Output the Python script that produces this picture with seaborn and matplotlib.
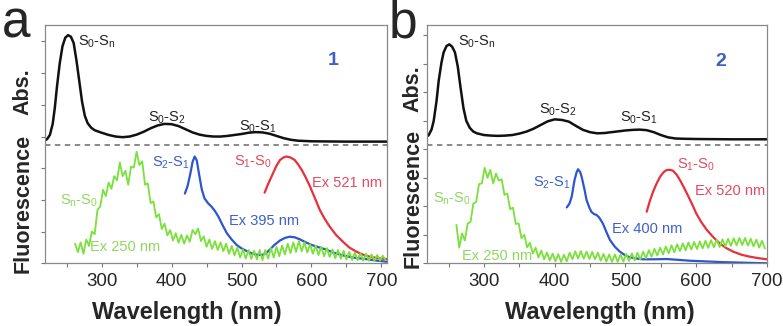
import numpy as np
import matplotlib
matplotlib.use("Agg")
import matplotlib.pyplot as plt
from matplotlib.ticker import FixedLocator
import seaborn as sns

# ---- panel a (compound 1) ----
a_abs_x = [219, 222, 226, 230, 233, 236, 240, 244, 248, 252, 256, 260, 264, 268, 272, 276, 280, 285, 290,
           300, 310, 320, 330, 340, 350, 360, 370, 380, 390, 400, 410, 420, 430, 440, 450, 460, 470, 480,
           490, 500, 510, 520, 530, 540, 550, 560, 570, 580, 600, 650, 708]
a_abs_y = [3.88, 3.92, 4.05, 4.40, 4.90, 5.55, 6.30, 6.85, 7.12, 7.20, 7.15, 6.95, 6.40, 5.75, 5.10, 4.65, 4.42, 4.28, 4.20,
           4.12, 4.05, 4.00, 3.98, 4.00, 4.06, 4.15, 4.26, 4.35, 4.40, 4.39, 4.33, 4.23, 4.13, 4.06, 4.02, 4.00, 4.00, 4.02,
           4.05, 4.08, 4.12, 4.14, 4.13, 4.09, 4.02, 3.95, 3.90, 3.87, 3.85, 3.84, 3.84]

a_blue_x = [419, 423, 427, 430, 433, 436, 439, 443, 447, 452, 457, 462, 467, 473, 479, 486, 493, 500, 508, 515,
            522, 529, 535, 540, 547, 555, 562, 569, 576, 583, 592, 600, 607, 620, 631, 645, 660, 679, 695, 708]
a_blue_y = [2.20, 2.45, 2.85, 3.20, 3.37, 3.25, 2.85, 2.35, 2.05, 1.90, 1.79, 1.65, 1.47, 1.20, 0.95, 0.75, 0.58, 0.47, 0.38, 0.31,
            0.27, 0.26, 0.32, 0.42, 0.58, 0.72, 0.80, 0.84, 0.82, 0.76, 0.66, 0.58, 0.53, 0.44, 0.34, 0.25, 0.18, 0.13, 0.08, 0.05]

a_red_x = [533, 538, 545, 550, 555, 560, 564, 570, 576, 581, 586, 592, 598, 605, 612, 619, 626, 635, 645, 654,
           664, 673, 683, 695, 708]
a_red_y = [2.23, 2.50, 2.84, 3.08, 3.26, 3.34, 3.37, 3.34, 3.26, 3.12, 2.95, 2.70, 2.42, 2.05, 1.68, 1.40, 1.16, 0.90, 0.68, 0.50,
           0.37, 0.28, 0.21, 0.16, 0.13]

# noisy green trace, one reading every 4 nm from 262 nm
a_green_start = 262
a_green_y = [0.62, 0.35, 0.66, 0.30, 0.75, 0.55, 1.00, 0.92, 1.68, 1.80, 2.32, 2.12, 2.55, 2.35, 2.75, 2.62,
             3.18, 2.75, 2.92, 2.48, 3.05, 3.02, 3.52, 3.10, 3.22, 2.48, 2.52, 1.90, 1.95, 1.45, 1.55, 1.08,
             1.25, 0.88, 1.05, 0.72, 0.95, 0.65, 0.90, 0.62, 0.88, 0.68, 1.05, 0.92, 1.10, 0.70, 0.85, 0.52,
             0.75, 0.45, 0.70, 0.42, 0.66, 0.38, 0.62, 0.30, 0.55, 0.25, 0.50, 0.18, 0.44, 0.15, 0.42, 0.14,
             0.40, 0.12, 0.42, 0.10, 0.42, 0.15, 0.48, 0.18, 0.52, 0.22, 0.56, 0.28, 0.62, 0.32, 0.66, 0.36,
             0.70, 0.38, 0.66, 0.34, 0.60, 0.30, 0.56, 0.26, 0.52, 0.22, 0.48, 0.20, 0.44, 0.16, 0.42, 0.14,
             0.40, 0.12, 0.36, 0.10, 0.34, 0.10, 0.32, 0.08, 0.30, 0.08, 0.28, 0.08, 0.26, 0.08, 0.24, 0.10]

# ---- panel b (compound 2) ----
b_abs_x = [219, 222, 226, 229, 233, 236, 240, 243, 247, 251, 255, 259, 263, 267, 271, 275, 280, 285, 290,
           300, 310, 320, 330, 340, 350, 360, 370, 380, 390, 400, 410, 420, 430, 440, 450, 460, 470, 480,
           490, 500, 510, 520, 530, 540, 550, 560, 570, 580, 600, 650, 700]
b_abs_y = [4.44, 4.50, 4.70, 5.00, 5.70, 6.40, 7.05, 7.40, 7.62, 7.68, 7.60, 7.40, 6.90, 6.15, 5.45, 5.00, 4.75, 4.62, 4.56,
           4.50, 4.48, 4.47, 4.48, 4.50, 4.55, 4.62, 4.72, 4.85, 4.98, 5.05, 5.03, 4.97, 4.82, 4.68, 4.60, 4.56, 4.57, 4.60,
           4.63, 4.66, 4.68, 4.69, 4.67, 4.60, 4.50, 4.42, 4.38, 4.37, 4.36, 4.35, 4.35]

b_blue_x = [417, 421, 424, 428, 431, 433, 436, 438, 442, 445, 449, 452, 456, 459, 463, 468, 473, 478, 485, 492,
            499, 506, 515, 525, 540, 558, 575, 591, 610, 638, 670, 700]
b_blue_y = [1.96, 2.10, 2.34, 2.92, 3.20, 3.30, 3.20, 3.04, 2.60, 2.22, 1.95, 1.80, 1.72, 1.70, 1.60, 1.40, 1.10, 0.82, 0.58, 0.41,
            0.29, 0.21, 0.17, 0.14, 0.14, 0.15, 0.12, 0.09, 0.07, 0.04, 0.02, 0.00]

b_red_x = [530, 534, 539, 544, 549, 554, 558, 563, 567, 572, 577, 583, 589, 595, 600, 607, 615, 624, 633, 642,
           652, 664, 676, 688, 700]
b_red_y = [1.81, 2.15, 2.51, 2.80, 3.04, 3.20, 3.27, 3.28, 3.25, 3.12, 2.92, 2.64, 2.34, 2.03, 1.75, 1.45, 1.17, 0.92, 0.70, 0.54,
           0.41, 0.30, 0.23, 0.18, 0.14]

b_green_start = 261
b_green_y = [1.35, 0.55, 1.05, 0.80, 1.40, 1.45, 2.10, 2.15, 2.78, 2.80, 3.35, 3.00, 3.28, 2.80, 3.15, 2.90,
             2.95, 2.40, 2.45, 1.90, 1.95, 1.38, 1.40, 0.88, 1.00, 0.56, 0.72, 0.34, 0.55, 0.20, 0.45, 0.14,
             0.38, 0.10, 0.34, 0.07, 0.32, 0.05, 0.30, 0.07, 0.37, 0.14, 0.42, 0.17, 0.43, 0.16, 0.41, 0.15,
             0.40, 0.14, 0.38, 0.09, 0.33, 0.06, 0.31, 0.05, 0.31, 0.05, 0.31, 0.06, 0.33, 0.08, 0.35, 0.10,
             0.37, 0.13, 0.41, 0.17, 0.46, 0.23, 0.51, 0.27, 0.55, 0.31, 0.59, 0.35, 0.63, 0.39, 0.67, 0.43,
             0.70, 0.45, 0.73, 0.48, 0.75, 0.50, 0.77, 0.52, 0.79, 0.54, 0.81, 0.56, 0.83, 0.57, 0.84, 0.59,
             0.86, 0.61, 0.88, 0.63, 0.89, 0.64, 0.89, 0.62, 0.86, 0.59, 0.83, 0.55, 0.79, 0.52]

# colours
BLACK = "#111111"
GREEN = "#7ae03a"
GREEN_TXT = "#8fd860"
BLUE = "#2d55cf"
BLUE_TXT = "#3d5fc8"
RED = "#e8303c"
RED_TXT = "#e5485e"

sns.set_style("ticks")
plt.rcParams["font.family"] = ["Liberation Sans", "DejaVu Sans"]

fig = plt.figure(figsize=(7.83, 3.26), dpi=100)
ax_a = fig.add_axes([45 / 783, 1 - 263.3 / 326, 342 / 783, 238.3 / 326])
ax_b = fig.add_axes([427 / 783, 1 - 263.3 / 326, 340 / 783, 238.3 / 326])


def draw_panel(ax, abs_x, abs_y, blue_x, blue_y, red_x, red_y, g_start, g_y, xlim, ylim, dash_y, yticks):
    g_x = g_start + 4 * np.arange(len(g_y))
    sns.lineplot(x=abs_x, y=abs_y, ax=ax, color=BLACK, lw=1.8, estimator=None)
    sns.lineplot(x=blue_x, y=blue_y, ax=ax, color=BLUE, lw=1.6, estimator=None)
    sns.lineplot(x=red_x, y=red_y, ax=ax, color=RED, lw=1.6, estimator=None)
    sns.lineplot(x=g_x, y=g_y, ax=ax, color=GREEN, lw=1.3, estimator=None)
    ax.axhline(dash_y, color="#808080", lw=1.3, ls=(0, (3, 2.5)))
    ax.set_xlim(*xlim)
    ax.set_ylim(*ylim)
    ax.xaxis.set_major_locator(FixedLocator([300, 400, 500, 600, 700]))
    ax.xaxis.set_minor_locator(FixedLocator([250, 350, 450, 550, 650]))
    ax.yaxis.set_major_locator(FixedLocator(yticks))
    ax.set_yticklabels([])
    ax.tick_params(which="both", direction="out", length=3, width=0.8, color="#777777",
                   labelsize=13.5, pad=4)
    for s in ax.spines.values():
        s.set_color("#888888")
        s.set_linewidth(0.9)
    ax.set_xlabel("")
    ax.set_ylabel("")


draw_panel(ax_a, a_abs_x, a_abs_y, a_blue_x, a_blue_y, a_red_x, a_red_y, a_green_start, a_green_y,
           (219, 708), (0, 7.52), 3.73, [0, 1, 2, 3, 4, 5, 6, 7])
draw_panel(ax_b, b_abs_x, b_abs_y, b_blue_x, b_blue_y, b_red_x, b_red_y, b_green_start, b_green_y,
           (219.5, 700), (0, 8.36), 4.15, [0, 1, 2, 3, 4, 5, 6, 7, 8])

sub = lambda a, b: "S$\\mathregular{_{%s}}$-S$\\mathregular{_{%s}}$" % (a, b)
fs = 10.5

# annotations panel a
ax_a.text(266, 6.98, sub("0", "n"), fontsize=fs, color="#222222", va="center")
ax_a.text(394, 4.58, sub("0", "2"), fontsize=fs, color="#222222", va="center", ha="center")
ax_a.text(523, 4.30, sub("0", "1"), fontsize=fs, color="#222222", va="center", ha="center")
ax_a.text(631, 6.4, "1", fontsize=14, color=BLUE_TXT, fontweight="bold", va="center", ha="center")
ax_a.text(399, 3.16, sub("2", "1"), fontsize=fs, color=BLUE_TXT, va="center", ha="center")
ax_a.text(517, 3.20, sub("1", "0"), fontsize=fs, color=RED_TXT, va="center", ha="center")
ax_a.text(601, 2.53, "Ex 521 nm", fontsize=fs, color=RED_TXT, va="center")
ax_a.text(482, 1.33, "Ex 395 nm", fontsize=fs, color=BLUE_TXT, va="center")
ax_a.text(283, 0.51, "Ex 250 nm", fontsize=fs, color=GREEN_TXT, va="center")
ax_a.text(240, 1.97, sub("n", "0"), fontsize=fs, color=GREEN_TXT, va="center")

# annotations panel b
ax_b.text(263, 7.77, sub("0", "n"), fontsize=fs, color="#222222", va="center")
ax_b.text(405, 5.40, sub("0", "2"), fontsize=fs, color="#222222", va="center", ha="center")
ax_b.text(519, 5.10, sub("0", "1"), fontsize=fs, color="#222222", va="center", ha="center")
ax_b.text(635, 7.07, "2", fontsize=14, color=BLUE_TXT, fontweight="bold", va="center", ha="center")
ax_b.text(396, 2.82, sub("2", "1"), fontsize=fs, color=BLUE_TXT, va="center", ha="center")
ax_b.text(600, 3.45, sub("1", "0"), fontsize=fs, color=RED_TXT, va="center", ha="center")
ax_b.text(598, 2.54, "Ex 520 nm", fontsize=fs, color=RED_TXT, va="center")
ax_b.text(481, 1.20, "Ex 400 nm", fontsize=fs, color=BLUE_TXT, va="center")
ax_b.text(269, 0.26, "Ex 250 nm", fontsize=fs, color=GREEN_TXT, va="center")
ax_b.text(228, 2.25, sub("n", "0"), fontsize=fs, color=GREEN_TXT, va="center")


# axis titles and panel letters (figure pixel coords)
def ftext(px, py, s, **kw):
    fig.text(px / 783, 1 - py / 326, s, **kw)


ftext(187, 312, "Wavelength (nm)", fontsize=17, fontweight="bold", ha="center", va="center")
ftext(600, 312, "Wavelength (nm)", fontsize=17, fontweight="bold", ha="center", va="center")
ftext(23, 92, "Abs.", fontsize=15.5, fontweight="bold", rotation=90, ha="center", va="center")
ftext(23, 203, "Fluorescence", fontsize=15.5, fontweight="bold", rotation=90, ha="center", va="center")
ftext(413, 89, "Abs.", fontsize=15.5, fontweight="bold", rotation=90, ha="center", va="center")
ftext(413, 198, "Fluorescence", fontsize=15.5, fontweight="bold", rotation=90, ha="center", va="center")
ftext(2, 37, "a", fontsize=37, va="baseline")
ftext(389, 37, "b", fontsize=37, va="baseline")

fig.savefig("out.png", dpi=100)
